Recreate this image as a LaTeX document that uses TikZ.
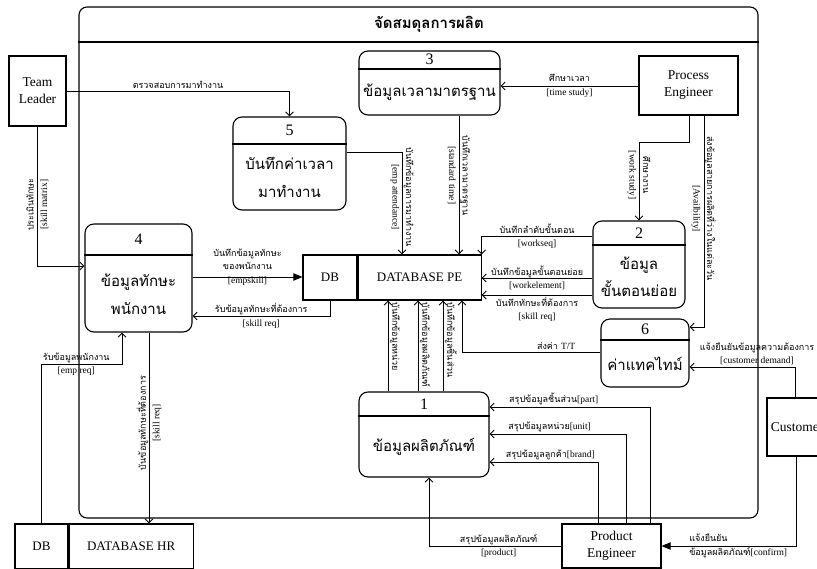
\documentclass[tikz,border=0pt]{standalone}
\usepackage{fontspec}
\setmainfont{Liberation Serif}
\newfontfamily\thaifont[Script=Thai]{Loma}
\usetikzlibrary{arrows.meta,fit,calc}
\newcommand\en[1]{{\rmfamily\fontsize{9.5}{13.5}\selectfont #1}}
\tikzset{
  ent/.style={rectangle, draw, line width=1.1pt, align=center, inner sep=0pt,
              font=\fontsize{13.5}{17}\selectfont},
  proc/.style={rectangle, draw, rounded corners=9pt, line width=1.1pt, inner sep=0pt},
  pnum/.style={inner sep=0pt, font=\fontsize{16}{18}\selectfont},
  ptitle/.style={align=center, inner sep=0pt, font=\thaifont\fontsize{15}{28}\selectfont},
  store/.style={rectangle, draw, line width=1.1pt, inner sep=0pt, minimum height=45pt,
                font=\fontsize{13}{15}\selectfont},
  lbl/.style={align=center, inner sep=1.5pt, font=\thaifont\fontsize{9}{13.5}\selectfont},
  arr/.style={-{Straight Barb[length=1.4mm,width=2.8mm]}, line width=0.9pt},
  tri/.style={-{Triangle[length=3.2mm,width=2.6mm]}, line width=0.9pt}
}

\begin{document}
\begin{tikzpicture}[x=1pt, y=-1pt]
  \useasboundingbox (0,0) rectangle (817,569);
  % system boundary
  \node[draw, rounded corners=8pt, line width=1.1pt, inner sep=0pt, fit={(79,7) (758,518)}] (sys) {};
  \draw[line width=1.1pt] (sys.west |- 0,42) -- (sys.east |- 0,42);
  \node[font=\thaifont\bfseries\fontsize{15}{18}\selectfont] (systitle) at (429,24) {จัดสมดุลการผลิต};

  % processes
  \foreach \n/\xa/\ya/\xb/\yb/\yh/\txt in {
      3/359/51/500/115/69/{ข้อมูลเวลามาตรฐาน},
      5/233/117/346/210/144/{บันทึกค่าเวลา\\มาทำงาน},
      4/85/224/192/332/255/{ข้อมูลทักษะ\\พนักงาน},
      2/593/221/685/308/245/{ข้อมูล\\ขั้นตอนย่อย},
      6/601/319/689/387/340/{ค่าแทคไทม์},
      1/359/392/489/477/416/{ข้อมูลผลิตภัณฑ์}}{
    \node[proc, fit={(\xa,\ya) (\xb,\yb)}] (p\n) {};
    \draw[line width=1.1pt] (p\n.west |- 0,\yh) -- (p\n.east |- 0,\yh);
    \node[pnum] (n\n) at ($(p\n.north)!0.5!(p\n.north |- 0,\yh)$) {\n};
    \node[ptitle] (t\n) at ($(p\n.south)!0.5!(p\n.south |- 0,\yh)$) {\txt};
  }

  % external entities
  \node[ent, minimum width=57pt, minimum height=70pt] (tl) at (37.5,91) {Team\\Leader};
  \node[ent, minimum width=99pt, minimum height=59pt] (pe) at (688.5,85.5) {Process\\Engineer};
  \node[ent, minimum width=99pt, minimum height=44pt] (pde) at (611.5,546) {Product\\Engineer};
  \node[ent, minimum width=60pt, minimum height=58pt] (cu) at (797,427) {Customer};

  % data stores
  \node[store, minimum width=54pt] (dbpe) at (330,277.5) {DB};
  \node[store, minimum width=123pt, anchor=west] (dbpename) at (dbpe.east) {DATABASE PE};
  \node[store, minimum width=53pt] (dbhr) at (41.5,546.5) {DB};
  \node[store, minimum width=124pt, anchor=west] (dbhrname) at (dbhr.east) {DATABASE HR};

  % flows
  \draw[arr] (tl.east) -| (p5.north) node[lbl, pos=0.25, above] {ตรวจสอบการมาทำงาน};
  \draw[arr] (tl.south) |- (p4.west |- 0,266)
    node[lbl, rotate=90, pos=0.28] {ประเมินทักษะ\\\en{[skill matrix]}};
  \draw[arr] (pe.west |- 0,86) -- (p3.east |- 0,86)
    node[lbl, midway] {ศึกษาเวลา\\\en{[time study]}};
  \draw[tri] (p4.east |- 0,277) -- (dbpe.west |- 0,277)
    node[lbl, midway, yshift=10pt] {บันทึกข้อมูลทักษะ\\ของพนักงาน\\\en{[empskill]}};
  \draw[arr] (dbpe.south) |- (p4.east |- 0,316)
    node[lbl, pos=0.75] {รับข้อมูลทักษะที่ต้องการ\\\en{[skill req]}};
  \draw[arr] (p5.east |- 0,152) -| (dbpename.north -| 402,0)
    node[lbl, rotate=-90, pos=0.72] {บันทึกข้อมูลการมาทำงาน\\\en{[emp attendance]}};
  \draw[arr] (p3.south -| 459,0) -- (dbpename.north -| 459,0)
    node[lbl, rotate=-90, pos=0.43] {บันทึกเวลามาตรฐาน\\\en{[standard time]}};
  \draw[arr] (pe.south -| 689,0) -- ++(0,27) -| (p2.north)
    node[lbl, rotate=-90, pos=0.71] {ศึกษางาน\\\en{[work study]}};
  \draw[arr] (pe.south -| 704,0) |- (p6.east |- 0,327)
    node[lbl, rotate=-90, pos=0.22] {ส่งข้อมูลสายการผลิตที่ว่างในแต่ละวัน\\\en{[Availbility]}};
  \draw[arr] (p2.west |- 0,236) -| (dbpename.north east)
    node[lbl, pos=0.25] {บันทึกลำดับขั้นตอน\\\en{[workseq]}};
  \draw[arr] (p2.west |- 0,278) -- (dbpename.east |- 0,278)
    node[lbl, midway] {บันทึกข้อมูลขั้นตอนย่อย\\\en{[workelement]}};
  \draw[arr] (p2.west |- 0,295) -- (dbpename.east |- 0,295)
    node[lbl, midway, below] {บันทึกทักษะที่ต้องการ\\\en{[skill req]}};
  \draw[arr] (p6.west |- 0,352) -| (dbpename.south -| 462,0)
    node[lbl, pos=0.16, above] {ส่งค่า \en{T/T}};
  \foreach \x/\lab in {388/บันทึกข้อมูลหน่วย, 418/บันทึกข้อมูลผลิตภัณฑ์, 443/บันทึกข้อมูลชิ้นส่วน}
    \draw[arr] (p1.north -| \x,0) -- (dbpename.south -| \x,0)
      node[lbl, rotate=-90, anchor=south west, pos=1] {\lab};
  \draw[arr] (pde.west) -| (p1.south -| 429,0)
    node[lbl, pos=0.237] {สรุปข้อมูลผลิตภัณฑ์\\\en{[product]}};
  \foreach \x/\y/\p/\lab in {598/462/0.72/{สรุปข้อมูลลูกค้า\en{[brand]}},
                             626/434/0.78/{สรุปข้อมูลหน่วย\en{[unit]}},
                             650/407/0.80/{สรุปข้อมูลชิ้นส่วน\en{[part]}}}
    \draw[arr] (pde.north -| \x,0) |- (p1.east |- 0,\y)
      node[lbl, pos=\p, above] {\lab};
  \draw[arr] (cu.north -| 795,0) |- (p6.east |- 0,367)
    node[lbl, pos=0.68, above] {แจ้งยืนยันข้อมูลความต้องการ\\\en{[customer demand]}};
  \draw[tri] (cu.south -| 796,0) |- (pde.east)
    node[lbl, align=left, anchor=west, pos=0.904] {แจ้งยืนยัน\\ข้อมูลผลิตภัณฑ์\en{[confirm]}};
  \draw[arr] (dbhr.north) -- ++(0,-159) -| (p4.south -| 122,0)
    node[lbl, pos=0.216] {รับข้อมูลพนักงาน\\\en{[emp req]}};
  \draw[arr] (p4.south -| 149,0) -- (dbhrname.north -| 149,0)
    node[lbl, rotate=90, pos=0.474] {บันข้อมูลทักษะที่ต้องการ\\\en{[skill req]}};
\end{tikzpicture}
\end{document}
